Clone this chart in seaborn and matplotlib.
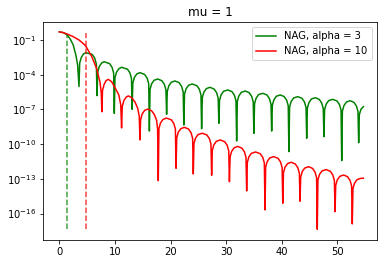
import numpy as np
import pandas as pd
import seaborn as sns
import matplotlib.pyplot as plt
from matplotlib.ticker import NullLocator

# Values.
# y values are stored as exponents of 10 (as read on the log axis).
t_alpha3 = [0.0, 0.7, 1.4, 2.0, 2.5, 3.0, 3.3, 3.54,
            3.66, 3.94, 4.35, 4.8, 5.93, 6.38, 6.66, 6.78,
            6.9, 7.18, 7.6, 8.04, 9.04, 9.49, 9.77, 9.89,
            10.01, 10.29, 10.74, 11.2, 12.25, 12.7, 12.98, 13.1,
            13.22, 13.5, 13.95, 14.5, 15.35, 15.8, 16.08, 16.2,
            16.32, 16.6, 17.05, 17.7, 18.45, 18.9, 19.18, 19.3,
            19.42, 19.7, 20.15, 20.8, 21.55, 22.0, 22.28, 22.4,
            22.52, 22.8, 23.25, 23.9, 24.75, 25.2, 25.48, 25.6,
            25.72, 26.0, 26.45, 27.1, 27.85, 28.3, 28.58, 28.7,
            28.82, 29.1, 29.55, 30.3, 31.05, 31.5, 31.78, 31.9,
            32.02, 32.3, 32.75, 33.45, 34.15, 34.6, 34.88, 35.0,
            35.12, 35.4, 35.85, 36.6, 37.35, 37.8, 38.08, 38.2,
            38.32, 38.6, 39.05, 39.75, 40.45, 40.9, 41.18, 41.3,
            41.42, 41.7, 42.15, 42.9, 43.65, 44.1, 44.38, 44.5,
            44.62, 44.9, 45.35, 46.05, 46.75, 47.2, 47.48, 47.6,
            47.72, 48.0, 48.45, 49.2, 49.95, 50.4, 50.68, 50.8,
            50.92, 51.2, 51.65, 52.3, 53.0, 53.45, 53.73, 53.85,
            53.97, 54.25, 54.7]
exp_alpha3 = [-0.30, -0.36, -0.55, -0.95, -1.43, -2.35, -3.2, -5.03,
              -3.00, -2.52, -2.20, -2.10, -2.25, -2.58, -3.08, -5.81,
              -3.78, -3.30, -2.99, -2.88, -3.04, -3.37, -3.85, -7.34,
              -4.26, -3.78, -3.47, -3.36, -3.52, -3.84, -4.33, -6.99,
              -4.72, -4.24, -3.93, -3.82, -3.98, -4.30, -4.78, -8.87,
              -5.27, -4.79, -4.48, -4.37, -4.52, -4.84, -5.32, -7.42,
              -5.44, -4.96, -4.65, -4.54, -4.69, -5.01, -5.49, -8.35,
              -5.70, -5.22, -4.91, -4.80, -4.95, -5.27, -5.75, -8.67,
              -5.99, -5.51, -5.20, -5.09, -5.24, -5.56, -6.04, -8.20,
              -6.22, -5.74, -5.43, -5.32, -5.46, -5.78, -6.26, -9.73,
              -6.31, -5.83, -5.52, -5.41, -5.55, -5.87, -6.35, -9.07,
              -6.51, -6.03, -5.72, -5.61, -5.75, -6.07, -6.55, -8.87,
              -6.65, -6.17, -5.86, -5.75, -5.89, -6.21, -6.69, -10.65,
              -6.80, -6.32, -6.01, -5.90, -6.04, -6.36, -6.84, -9.50,
              -6.89, -6.41, -6.10, -5.99, -6.13, -6.45, -6.93, -9.36,
              -7.03, -6.55, -6.24, -6.13, -6.27, -6.59, -7.07, -11.43,
              -7.15, -6.67, -6.36, -6.25, -6.39, -6.71, -7.19, -9.88,
              -7.45, -7.0, -6.76]

t_alpha10 = [0.0, 0.7, 1.4, 2.5, 3.6, 4.7, 5.8, 6.7, 7.3, 7.55, 7.65,
             7.77, 8.05, 8.4, 8.8, 9.4, 10.0, 10.7, 11.05, 11.2,
             11.32, 11.6, 12.0, 12.4, 13.0, 13.6, 14.1, 14.38, 14.5,
             14.62, 14.9, 15.35, 15.9, 16.6, 17.1, 17.5, 17.68, 17.8,
             17.92, 18.2, 18.65, 19.25, 20.15, 20.6, 20.88, 21.0,
             21.12, 21.4, 21.85, 22.5, 23.25, 23.7, 23.98, 24.1,
             24.22, 24.5, 24.95, 25.7, 26.55, 27.0, 27.28, 27.4,
             27.52, 27.8, 28.25, 28.95, 29.75, 30.2, 30.48, 30.6,
             30.72, 31.0, 31.45, 32.1, 32.85, 33.3, 33.58, 33.7,
             33.82, 34.1, 34.55, 35.3, 36.15, 36.6, 36.88, 37.0,
             37.12, 37.4, 37.85, 38.55, 39.35, 39.8, 40.08, 40.2,
             40.32, 40.6, 41.05, 41.7, 42.45, 42.9, 43.18, 43.3,
             43.42, 43.7, 44.15, 44.85, 45.55, 46.0, 46.28, 46.4,
             46.52, 46.8, 47.25, 48.0, 48.75, 49.2, 49.48, 49.6,
             49.72, 50.0, 50.45, 51.15, 51.85, 52.3, 52.58, 52.7,
             52.82, 53.1, 53.55, 54.2, 54.7]
exp_alpha10 = [-0.30, -0.36, -0.48, -0.71, -1.02, -1.48, -2.4, -3.45, -4.6, -5.6, -7.2,
               -5.35, -4.85, -4.52, -4.4, -4.6, -5.1, -5.75, -6.6, -8.6,
               -6.75, -6.25, -5.95, -5.83, -5.98, -6.35, -6.9, -7.6, -9.64,
               -7.9, -7.4, -7.08, -6.97, -7.12, -7.45, -7.95, -8.7, -13.16,
               -8.65, -8.17, -7.87, -7.75, -7.9, -8.22, -8.7, -12.09,
               -9.45, -8.97, -8.67, -8.55, -8.7, -9.02, -9.5, -12.58,
               -9.96, -9.48, -9.18, -9.06, -9.21, -9.53, -10.01, -12.69,
               -10.54, -10.06, -9.76, -9.64, -9.79, -10.11, -10.59, -13.25,
               -11.1, -10.62, -10.32, -10.2, -10.35, -10.67, -11.15, -14.05,
               -11.58, -11.1, -10.8, -10.68, -10.83, -11.15, -11.63, -15.69,
               -11.98, -11.5, -11.2, -11.08, -11.23, -11.55, -12.03, -15.11,
               -12.47, -11.99, -11.69, -11.57, -11.72, -12.04, -12.52, -14.94,
               -12.85, -12.37, -12.07, -11.95, -12.1, -12.42, -12.9, -17.36,
               -13.1, -12.62, -12.32, -12.2, -12.35, -12.67, -13.15, -15.84,
               -13.57, -13.09, -12.79, -12.67, -12.82, -13.14, -13.62, -16.9,
               -13.85, -13.38, -13.08, -12.96, -12.95]

# dashed markers (green for alpha = 3, red for alpha = 10)
marker_t = [1.35, 4.8]
marker_top_exp = [-0.57, -0.42]
marker_bottom_exp = -17.36

labels = ['NAG, alpha = 3', 'NAG, alpha = 10']
colors = ['green', 'red']

df3 = pd.DataFrame({'t': t_alpha3, 'y': np.power(10.0, exp_alpha3)})
df10 = pd.DataFrame({'t': t_alpha10, 'y': np.power(10.0, exp_alpha10)})

fig = plt.figure(figsize=(385 / 72, 264 / 72), dpi=72)
ax = fig.add_axes([0.1125, 0.0909, 0.8659, 0.8246])

sns.lineplot(data=df3, x='t', y='y', color=colors[0], label=labels[0],
             estimator=None, sort=False, ax=ax)
sns.lineplot(data=df10, x='t', y='y', color=colors[1], label=labels[1],
             estimator=None, sort=False, ax=ax)

ax.vlines(marker_t, 10.0 ** marker_bottom_exp, np.power(10.0, marker_top_exp),
          colors=colors, linestyles='--', linewidth=1.5, alpha=0.75)

ax.set_yscale('log')
ax.set_xlim(-2.88, 57.09)
ax.set_ylim(10 ** -18.29, 10 ** 0.53)
ax.set_yticks([1e-16, 1e-13, 1e-10, 1e-7, 1e-4, 1e-1])
ax.yaxis.set_minor_locator(NullLocator())
ax.set_xticks([0, 10, 20, 30, 40, 50])
ax.set_xlabel('')
ax.set_ylabel('')
ax.set_title('mu = 1')
ax.legend(loc='upper right')

fig.savefig('out.png', dpi=72)
